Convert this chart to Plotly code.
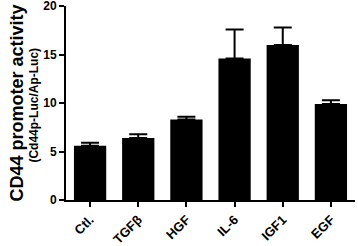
import plotly.graph_objects as go

# ── data ──────────────────────────────────────────────────────────────────────
categories = ["Ctl.", "TGFβ", "HGF", "IL-6", "IGF1", "EGF"]
activity   = [5.6, 6.4, 8.3, 14.6, 16.0, 9.9]
sem        = [0.3, 0.4, 0.3, 3.0, 1.8, 0.4]
y_ticks    = [0, 5, 10, 15, 20]

FONT = "Liberation Sans, Arial, sans-serif"

fig = go.Figure(go.Bar(
    x=categories,
    y=activity,
    width=0.67,
    marker=dict(color="black", line=dict(width=0)),
    error_y=dict(
        type="data", symmetric=False, array=sem, arrayminus=[0] * len(sem),
        color="black", thickness=2, width=9
    ),
))

fig.update_layout(
    width=358, height=246,
    margin=dict(l=66, r=3, t=6, b=46),
    paper_bgcolor="white", plot_bgcolor="white",
    showlegend=False,
    font=dict(family=FONT, color="black"),
    xaxis=dict(
        range=[-0.5, 5.5], showline=True, linecolor="black", linewidth=2,
        ticks="outside", ticklen=5, tickwidth=2, tickcolor="black",
        tickangle=-45, tickfont=dict(size=13, family=FONT, weight="bold"),
        showgrid=False, zeroline=False, automargin=False,
    ),
    yaxis=dict(
        range=[0, 20.03], tickvals=y_ticks, showline=True, linecolor="black", linewidth=2,
        ticks="outside", ticklen=5, tickwidth=2, tickcolor="black",
        tickfont=dict(size=12, family=FONT, weight="bold"),
        ticklabeloverflow="allow",
        showgrid=False, zeroline=False, automargin=False,
    ),
)

# y-axis title: main line + units line
fig.add_annotation(
    text="<b>CD44 promoter activity</b>", xref="paper", yref="paper",
    x=-0.168, y=0.5, xanchor="center", yanchor="middle", textangle=-90,
    showarrow=False, font=dict(size=18, family=FONT, color="black"),
)
fig.add_annotation(
    text="<b>(Cd44p-Luc/Ap-Luc)</b>", xref="paper", yref="paper",
    x=-0.112, y=0.49, xanchor="center", yanchor="middle", textangle=-90,
    showarrow=False, font=dict(size=12, family=FONT, color="black"),
)

# drop the browser's default body margin so the figure sits at the page corner
fig.write_html("out.html", config={"displayModeBar": False},
               post_script="document.body.style.margin='0';")
